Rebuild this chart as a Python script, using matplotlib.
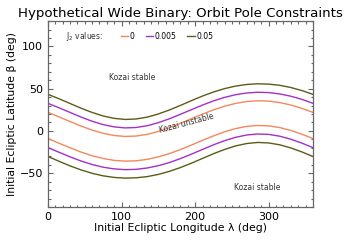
import numpy as np
import matplotlib
matplotlib.use("Agg")
import matplotlib.pyplot as plt

# ecliptic longitude grid (deg) and boundary curves
lam = np.arange(0, 361, 15)

# J2 = 0 (orange)
b0_up = [22.0, 16.7, 11.1, 5.8, 1.0, -2.8, -5.4, -6.5, -6.0, -4.0, -0.6, 3.8, 9.0,
         14.5, 19.9, 25.0, 29.3, 32.6, 34.8, 35.7, 35.3, 33.6, 30.7, 26.8, 22.0]
b0_lo = [-9.0, -14.5, -19.9, -25.0, -29.3, -32.6, -34.8, -35.7, -35.3, -33.6, -30.7, -26.8, -22.0,
         -16.7, -11.1, -5.8, -1.0, 2.8, 5.4, 6.5, 6.0, 4.0, 0.6, -3.8, -9.0]
# J2 = 0.005 (purple)
b1_up = [32.7, 27.4, 21.9, 16.4, 11.5, 7.5, 4.8, 3.6, 4.1, 6.2, 9.8, 14.4, 19.7,
         25.2, 30.6, 35.6, 39.7, 42.9, 44.9, 45.8, 45.4, 43.8, 41.1, 37.4, 32.7]
b1_lo = [-19.7, -25.2, -30.6, -35.6, -39.7, -42.9, -44.9, -45.8, -45.4, -43.8, -41.1, -37.4, -32.7,
         -27.4, -21.9, -16.4, -11.5, -7.5, -4.8, -3.6, -4.1, -6.2, -9.8, -14.4, -19.7]
# J2 = 0.05 (olive)
b2_up = [43.3, 38.1, 32.5, 26.9, 21.9, 17.7, 14.9, 13.6, 14.2, 16.4, 20.1, 24.8, 30.2,
         35.9, 41.3, 46.1, 50.1, 53.1, 55.0, 55.8, 55.4, 54.0, 51.4, 47.8, 43.3]
b2_lo = [-30.2, -35.9, -41.3, -46.1, -50.1, -53.1, -55.0, -55.8, -55.4, -54.0, -51.4, -47.8, -43.3,
         -38.1, -32.5, -26.9, -21.9, -17.7, -14.9, -13.6, -14.2, -16.4, -20.1, -24.8, -30.2]

j2_labels = ["0", "0.005", "0.05"]
colors = ["#f4875c", "#a52fc8", "#5c5c16"]

plt.rcParams['font.family'] = 'DejaVu Sans'
fig = plt.figure(figsize=(3.5, 2.45), dpi=100)
ax = fig.add_axes([0.137, 0.155, 0.757, 0.759])

handles = []
for up, lo, c, lab in zip([b0_up, b1_up, b2_up], [b0_lo, b1_lo, b2_lo], colors, j2_labels):
    h, = ax.plot(lam, up, color=c, lw=1.0, label=lab)
    ax.plot(lam, lo, color=c, lw=1.0)
    handles.append(h)

ax.set_xlim(0, 360)
ax.set_ylim(-90, 130)
ax.set_xticks([0, 100, 200, 300])
ax.set_yticks([-50, 0, 50, 100])
ax.set_xticks(np.arange(0, 361, 10), minor=True)
ax.set_yticks(np.arange(-90, 131, 10), minor=True)
ax.tick_params(which='both', direction='in', top=True, right=True, colors='#666666',
               labelcolor='black', labelsize=8)
ax.tick_params(which='major', length=3.5, width=0.8)
ax.tick_params(which='minor', length=1.8, width=0.8)
for s in ax.spines.values():
    s.set_color('#666666')
    s.set_linewidth(0.9)

ax.set_xlabel("Initial Ecliptic Longitude λ (deg)", fontsize=7.8, labelpad=1)
ax.set_ylabel("Initial Ecliptic Latitude β (deg)", fontsize=7.8, labelpad=2)
ax.set_title("Hypothetical Wide Binary: Orbit Pole Constraints", fontsize=9.6, pad=3)

ax.text(0.068, 0.919, "J$_2$ values:", transform=ax.transAxes, fontsize=5.5,
        va='center', ha='left', color='#333333')
ax.legend(handles=handles, loc='center left', bbox_to_anchor=(0.275, 0.919), ncol=3,
          frameon=False, fontsize=5.5, handlelength=1.0, handletextpad=0.2,
          columnspacing=1.4, borderpad=0, borderaxespad=0)

ax.text(114, 63, "Kozai stable", fontsize=5.5, ha='center', va='center', color='#333333')
ax.text(284, -67, "Kozai stable", fontsize=5.5, ha='center', va='center', color='#333333')
ax.text(188, 9.5, "Kozai unstable", fontsize=5.5, ha='center', va='center', rotation=15,
        color='#333333')

fig.savefig("out.png", dpi=100)
